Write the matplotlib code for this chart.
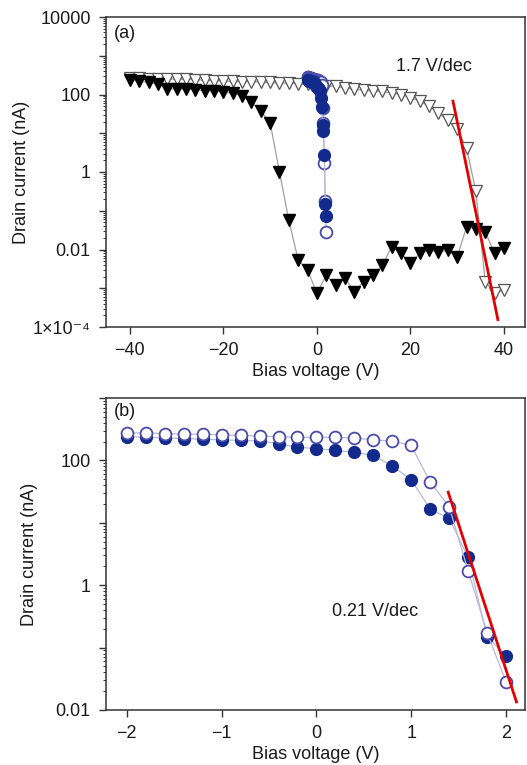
import matplotlib

matplotlib.use("Agg")
import matplotlib.pyplot as plt
import numpy as np
from matplotlib.ticker import LogLocator, NullFormatter

plt.rcParams["font.family"] = ["Liberation Sans", "DejaVu Sans"]

# Panel (a): wide sweep, triangles (log10 of current in nA)
tri_voltage = np.arange(-40, 41, 2)
tri_filled_log = [2.37, 2.34, 2.31, 2.27, 2.14, 2.15, 2.14, 2.12, 2.10, 2.08, 2.06,
                  2.03, 1.97, 1.80, 1.57, 1.27, 0.00, -1.25, -2.27, -2.53, -3.13,
                  -2.66, -2.92, -2.74, -3.09, -2.83, -2.66, -2.40, -1.93, -2.10, -2.36,
                  -2.10, -2.02, -2.06, -2.02, -2.19, -1.42, -1.46, -1.55, -2.10, -1.97]
tri_open_log = [2.42, 2.42, 2.41, 2.41, 2.40, 2.40, 2.39, 2.38, 2.37, 2.36, 2.35,
                2.34, 2.33, 2.33, 2.32, 2.31, 2.30, 2.29, 2.28, 2.27, 2.25,
                2.23, 2.21, 2.17, 2.13, 2.11, 2.09, 2.08, 2.04, 2.00, 1.92,
                1.83, 1.70, 1.53, 1.33, 1.10, 0.62, -0.50, -2.83, -3.13, -3.04]

# Panel (b): narrow sweep, circles (log10 of current in nA)
circ_voltage = np.round(np.arange(-2.0, 2.01, 0.2), 1)
circ_filled_log = [2.38, 2.37, 2.36, 2.35, 2.34, 2.33, 2.32, 2.31, 2.27, 2.21, 2.19,
                   2.16, 2.13, 2.08, 1.91, 1.69, 1.22, 1.07, 0.45, -0.83, -1.13]
circ_open_log = [2.44, 2.44, 2.43, 2.42, 2.42, 2.41, 2.40, 2.39, 2.38, 2.37, 2.37,
                 2.37, 2.36, 2.33, 2.31, 2.24, 1.65, 1.26, 0.23, -0.76, -1.55]

# subthreshold swing fits
fit_a_voltage = [29.1, 38.7]
fit_a_log = [1.83, -3.81]
fit_b_voltage = [1.39, 2.11]
fit_b_log = [1.49, -1.87]

navy = "#112a8c"
open_edge = "#4b4ba8"
text_col = "#1a1a1a"
spine_col = "#333333"
fs = 13

fig = plt.figure(figsize=(5.27, 7.65), dpi=100)
ax_a = fig.add_axes([106 / 527, 1 - 327 / 765, 419 / 527, 310 / 765])
ax_b = fig.add_axes([106 / 527, 1 - 710 / 765, 419 / 527, 312 / 765])


def style_axis(ax, label_x):
    ax.set_yscale("log")
    for sp in ax.spines.values():
        sp.set_color(spine_col)
        sp.set_linewidth(1.1)
    ax.tick_params(axis="both", which="major", direction="out", length=5, width=1.0,
                   color=spine_col, labelsize=fs, labelcolor=text_col, pad=6)
    ax.tick_params(axis="y", which="minor", direction="out", length=2.5, width=0.7,
                   color=spine_col)
    ax.tick_params(top=False, right=False)
    ax.yaxis.set_minor_locator(LogLocator(base=10, subs=np.arange(2, 10), numticks=50))
    ax.yaxis.set_minor_formatter(NullFormatter())
    ax.set_xlabel("Bias voltage (V)", fontsize=fs, color=text_col, labelpad=3)
    ax.set_ylabel("Drain current (nA)", fontsize=fs, color=text_col)
    ax.yaxis.set_label_coords(label_x, 0.5)


def plot_circles(ax, ms, filled_on_top):
    z_f, z_o = (5, 4) if filled_on_top else (4, 5)
    ax.plot(circ_voltage, 10 ** np.array(circ_filled_log), "-o", color="#b8b8dc", lw=0.9,
            mfc=navy, mec=navy, ms=ms, zorder=z_f)
    ax.plot(circ_voltage, 10 ** np.array(circ_open_log), "-o", color="#b8b8dc", lw=0.9,
            mfc="white", mec=open_edge, mew=1.3, ms=ms, zorder=z_o)


# ---- panel (a)
style_axis(ax_a, -0.181)
ax_a.plot(tri_voltage, 10 ** np.array(tri_open_log), "-v", color="#a0a0a0", lw=0.9,
          mfc="white", mec="#555555", mew=0.9, ms=8.5, zorder=2)
ax_a.plot(tri_voltage, 10 ** np.array(tri_filled_log), "-v", color="#a0a0a0", lw=0.9,
          mfc="black", mec="black", ms=8.5, zorder=3)
plot_circles(ax_a, 8.5, filled_on_top=True)
ax_a.plot(fit_a_voltage, 10 ** np.array(fit_a_log), color="#e00000", lw=2, zorder=6)
ax_a.set_xlim(-45.1, 44.5)
ax_a.set_ylim(1e-4, 1e4)
ax_a.set_xticks([-40, -20, 0, 20, 40])
ax_a.set_yticks([1e4, 1e3, 1e2, 1e1, 1, 1e-1, 1e-2, 1e-3, 1e-4])
ax_a.set_yticklabels(["10000", "", "100", "", "1", "", "0.01", "", "1×10⁻⁴"])
ax_a.text(0.018, 0.975, "(a)", transform=ax_a.transAxes, fontsize=fs, color=text_col,
          ha="left", va="top")
ax_a.text(17.0, 10 ** 2.72, "1.7 V/dec", fontsize=fs, color=text_col, ha="left",
          va="center")

# ---- panel (b)
style_axis(ax_b, -0.162)
plot_circles(ax_b, 8.5, filled_on_top=False)
ax_b.plot(fit_b_voltage, 10 ** np.array(fit_b_log), color="#e00000", lw=2, zorder=6)
ax_b.set_xlim(-2.22, 2.2)
ax_b.set_ylim(1e-2, 1e3)
ax_b.set_xticks([-2, -1, 0, 1, 2])
ax_b.set_yticks([1e3, 1e2, 1e1, 1, 1e-1, 1e-2])
ax_b.set_yticklabels(["", "100", "", "1", "", "0.01"])
ax_b.text(0.018, 0.985, "(b)", transform=ax_b.transAxes, fontsize=fs, color=text_col,
          ha="left", va="top")
ax_b.text(0.16, 10 ** -0.42, "0.21 V/dec", fontsize=fs, color=text_col, ha="left",
          va="center")

fig.savefig("out.png", dpi=100)
